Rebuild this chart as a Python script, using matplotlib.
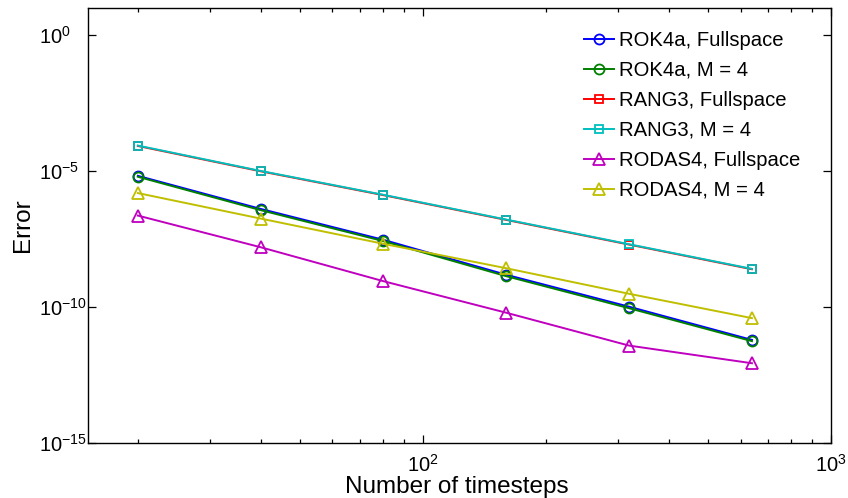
import numpy as np
import matplotlib
matplotlib.use('Agg')
import matplotlib.pyplot as plt
from matplotlib.ticker import LogLocator, NullLocator

plt.rcParams['font.family'] = ['Liberation Sans', 'DejaVu Sans']
plt.rcParams['mathtext.fontset'] = 'custom'
plt.rcParams['mathtext.rm'] = 'Liberation Sans'
plt.rcParams['mathtext.it'] = 'Liberation Sans:italic'

# timesteps
N = [20, 40, 80, 160, 320, 640]

# errors
rok4a_full = [6.6e-6, 4.0e-7, 2.9e-8, 1.5e-9, 1.0e-10, 6.0e-12]
rok4a_m4 = [6.1e-6, 3.6e-7, 2.6e-8, 1.33e-9, 8.8e-11, 5.4e-12]
rang3_full = [8.3e-5, 9.7e-6, 1.28e-6, 1.57e-7, 1.94e-8, 2.4e-9]
rang3_m4 = [8.6e-5, 1.0e-5, 1.32e-6, 1.62e-7, 2.0e-8, 2.48e-9]
rodas4_full = [2.27e-7, 1.55e-8, 8.7e-10, 6.0e-11, 3.7e-12, 8.3e-13]
rodas4_m4 = [1.53e-6, 1.76e-7, 2.07e-8, 2.61e-9, 2.99e-10, 3.8e-11]

labels = ['ROK4a, Fullspace', 'ROK4a, M = 4', 'RANG3, Fullspace',
          'RANG3, M = 4', 'RODAS4, Fullspace', 'RODAS4, M = 4']

fig = plt.figure(figsize=(8.48, 4.98), dpi=100)
ax = fig.add_axes([0.1038, 0.1114, 0.8762, 0.8726])

lw = 1.4
mew = 1.3
ax.loglog(N, rok4a_full, '-o', color=(0, 0, 1), lw=lw, ms=7.2, mfc='none', mew=mew, label=labels[0])
ax.loglog(N, rok4a_m4, '-o', color=(0, 0.5, 0), lw=lw, ms=7.2, mfc='none', mew=mew, label=labels[1])
ax.loglog(N, rang3_full, '-s', color=(1, 0, 0), lw=lw, ms=5.8, mfc='none', mew=mew, label=labels[2])
ax.loglog(N, rang3_m4, '-s', color=(0, 0.75, 0.75), lw=lw, ms=5.8, mfc='none', mew=mew, label=labels[3])
ax.loglog(N, rodas4_full, '-^', color=(0.75, 0, 0.75), lw=lw, ms=8.5, mfc='none', mew=mew, label=labels[4])
ax.loglog(N, rodas4_m4, '-^', color=(0.75, 0.75, 0), lw=lw, ms=8.5, mfc='none', mew=mew, label=labels[5])

ax.set_xlim(15.1, 1000)
ax.set_ylim(1e-15, 1e1)
ax.set_yticks([1e-15, 1e-10, 1e-5, 1e0])
ax.yaxis.set_minor_locator(NullLocator())
ax.xaxis.set_major_locator(LogLocator(base=10))
ax.xaxis.set_minor_locator(LogLocator(base=10, subs=np.arange(2, 10)))

ax.tick_params(which='both', direction='in', top=True, right=True, labelsize=14.5, width=0.9)
ax.tick_params(which='major', length=5.5)
ax.tick_params(which='minor', length=3)
ax.tick_params(axis='x', which='major', pad=8.5)
ax.tick_params(axis='y', which='major', pad=35)
for lab in ax.get_yticklabels():
    lab.set_horizontalalignment('left')
for s in ax.spines.values():
    s.set_linewidth(1.0)

ax.set_xlabel('Number of timesteps', fontsize=17.5, va='baseline')
ax.xaxis.set_label_coords(0.497, -0.116)
ax.set_ylabel('Error', fontsize=17.5, labelpad=4)

ax.legend(loc='upper left', bbox_to_anchor=(0.657, 0.966), frameon=False, fontsize=14.6,
          handlelength=1.48, handletextpad=0.25, labelspacing=0.54, borderaxespad=0)

fig.savefig('out.png', dpi=100)
